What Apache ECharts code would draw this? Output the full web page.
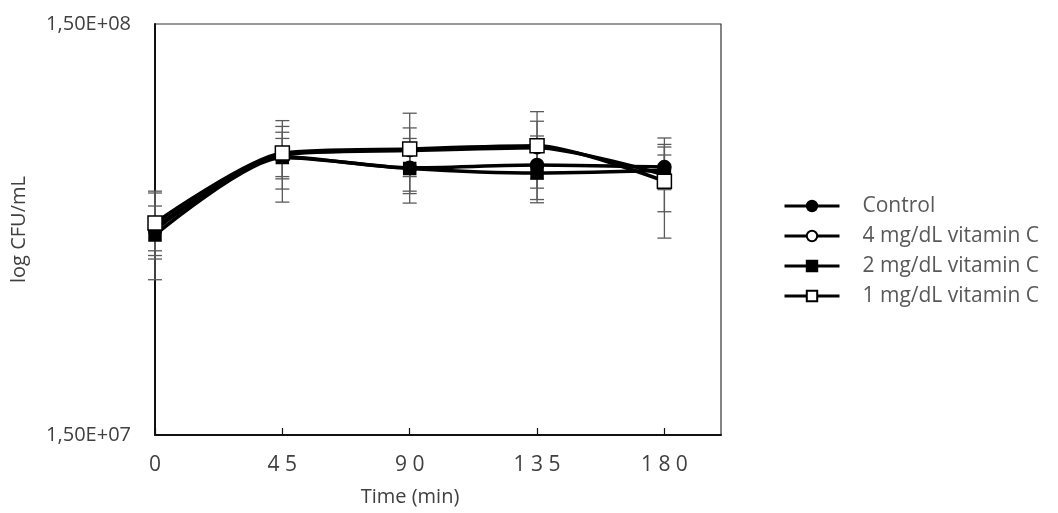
<!DOCTYPE html>
<html>
<head>
<meta charset="utf-8">
<script src="https://cdn.jsdelivr.net/npm/echarts@6/dist/echarts.min.js"></script>
<style>
  html, body { margin: 0; padding: 0; background: #fff; }
  #main { width: 1058px; height: 513px; }
</style>
</head>
<body>
<div id="main"></div>
<script>
// time points (min)
var times = [0, 45, 90, 135, 180];
var xTicks = [0, 45, 90, 135, 180];
var yLabels = [1.5e7, 1.5e8];

// mean CFU/mL per group
var control = [4.73e7, 7.13e7, 6.70e7, 6.81e7, 6.73e7];
var vitC4 = [4.81e7, 7.20e7, 7.38e7, 7.50e7, 6.44e7];
var vitC2 = [4.60e7, 7.10e7, 6.68e7, 6.51e7, 6.60e7];
var vitC1 = [4.92e7, 7.28e7, 7.45e7, 7.58e7, 6.22e7];

// error (+/-) per group
var controlErr = [1.15e7, 1.6e7, 1.2e7, 1.2e7, 0.8e7];
var vitC4Err = [0.6e7, 1.25e7, 1.0e7, 1.2e7, 1.2e7];
var vitC2Err = [0.5e7, 0.8e7, 0.8e7, 1.0e7, 0.6e7];
var vitC1Err = [0.9e7, 0.9e7, 1.65e7, 1.6e7, 1.7e7];

var names = ['Control', '4 mg/dL vitamin C', '2 mg/dL vitamin C', '1 mg/dL vitamin C'];

var myChart = echarts.init(document.getElementById('main'));

// "1,50E+08" style labels
function sciLabel(v) {
    var s = Number(v).toExponential(2).split('e');
    var exp = parseInt(s[1], 10);
    var e = (exp < 0 ? '-' : '+') + (Math.abs(exp) < 10 ? '0' : '') + Math.abs(exp);
    return s[0].replace('.', ',') + 'E' + e;
}

function pairs(vals) {
    return vals.map(function (v, i) { return [times[i], v]; });
}

function errData(vals, errs) {
    return vals.map(function (v, i) { return [times[i], v - errs[i], v + errs[i]]; });
}

function errSeries(vals, errs) {
    return {
        type: 'custom',
        z: 1,
        silent: true,
        data: errData(vals, errs),
        encode: { x: 0, y: [1, 2] },
        renderItem: function (params, api) {
            var lo = api.coord([api.value(0), api.value(1)]);
            var hi = api.coord([api.value(0), api.value(2)]);
            var w = 7;
            var st = { stroke: '#5a5a5a', lineWidth: 1.3 };
            return {
                type: 'group',
                children: [
                    { type: 'line', shape: { x1: lo[0], y1: lo[1], x2: hi[0], y2: hi[1] }, style: st },
                    { type: 'line', shape: { x1: lo[0] - w, y1: lo[1], x2: lo[0] + w, y2: lo[1] }, style: st },
                    { type: 'line', shape: { x1: hi[0] - w, y1: hi[1], x2: hi[0] + w, y2: hi[1] }, style: st }
                ]
            };
        }
    };
}

function lineSeries(name, vals, symbol, size, fill) {
    return {
        name: name,
        type: 'line',
        z: 3,
        smooth: 0.25,
        data: pairs(vals),
        symbol: symbol,
        symbolSize: size,
        showAllSymbol: true,
        lineStyle: { color: '#000', width: 3.5 },
        itemStyle: { color: fill, borderColor: '#000', borderWidth: 1.5 }
    };
}

var option = {
    animation: false,
    backgroundColor: '#fff',
    grid: {
        left: 155, top: 24, right: 337, bottom: 78,
        show: true, borderColor: '#333', borderWidth: 1.2, backgroundColor: 'transparent'
    },
    legend: {
        orient: 'vertical',
        left: 778,
        top: 190,
        itemWidth: 55,
        itemHeight: 13,
        itemGap: 8,
        data: names,
        lineStyle: { width: 3, color: '#000' },
        textStyle: {
            fontFamily: 'Open Sans', fontSize: 21, lineHeight: 22,
            color: '#595959', padding: [0, 0, 0, 18]
        }
    },
    xAxis: {
        type: 'value',
        min: 0,
        max: 200,
        interval: 45,
        name: 'Time (min)',
        nameLocation: 'middle',
        nameGap: 52,
        nameTextStyle: { fontFamily: 'Open Sans', fontSize: 20, color: '#404040', padding: [0, 56, 0, 0] },
        axisLine: { lineStyle: { color: '#111', width: 2 } },
        axisTick: { inside: true, length: 7, lineStyle: { color: '#111', width: 1.2 }, customValues: xTicks },
        axisLabel: {
            customValues: xTicks,
            margin: 20,
            fontFamily: 'Open Sans',
            fontSize: 21,
            color: '#404040',
            formatter: function (v) { return String(v).split('').join(' '); }
        },
        splitLine: { show: false }
    },
    yAxis: {
        type: 'log',
        logBase: 10,
        min: 1.5e7,
        max: 1.5e8,
        name: 'log CFU/mL',
        nameLocation: 'middle',
        nameGap: 126,
        nameRotate: 90,
        nameTextStyle: { fontFamily: 'Open Sans', fontSize: 20, color: '#404040' },
        axisLine: { show: true, lineStyle: { color: '#111', width: 2 } },
        axisTick: { show: false },
        axisLabel: {
            customValues: yLabels,
            margin: 24,
            fontFamily: 'Open Sans',
            fontSize: 20,
            color: '#404040',
            formatter: sciLabel
        },
        splitLine: { show: false }
    },
    series: [
        errSeries(control, controlErr),
        errSeries(vitC4, vitC4Err),
        errSeries(vitC2, vitC2Err),
        errSeries(vitC1, vitC1Err),
        lineSeries(names[0], control, 'circle', 13, '#000'),
        lineSeries(names[1], vitC4, 'circle', 12, '#fff'),
        lineSeries(names[2], vitC2, 'rect', 12, '#000'),
        lineSeries(names[3], vitC1, 'rect', 14, '#fff')
    ]
};

myChart.setOption(option);
</script>
</body>
</html>
